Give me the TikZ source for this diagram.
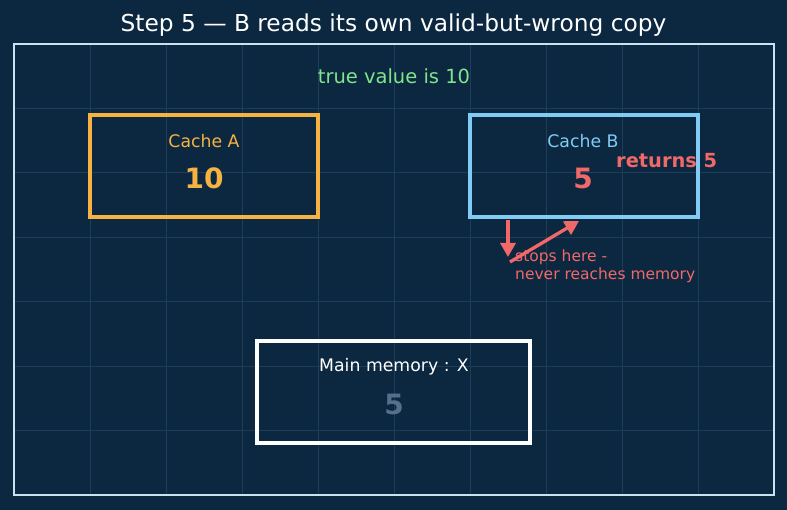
\documentclass[tikz,border=0pt]{standalone}
\usepackage{fontspec}
\setmainfont{DejaVu Sans}
\usetikzlibrary{arrows.meta}
\definecolor{bg}{RGB}{12,40,64}
\definecolor{gridc}{RGB}{30,62,88}
\definecolor{framec}{RGB}{200,226,242}
\definecolor{orangec}{RGB}{246,178,66}
\definecolor{bluec}{RGB}{128,204,244}
\definecolor{redc}{RGB}{240,104,104}
\definecolor{greenc}{RGB}{128,228,140}
\definecolor{grayc}{RGB}{84,112,138}
\tikzset{
  box/.style={draw, line width=3.5pt, minimum width=228pt, minimum height=102pt, inner sep=0pt},
  lbl/.style={font=\fontsize{17.3}{20}\selectfont, inner sep=0pt},
  val/.style={font=\bfseries\fontsize{28}{32}\selectfont, inner sep=0pt},
  redarrow/.style={draw=redc, line width=3.3pt, -{Triangle[length=14pt,width=15pt]}},
}
\begin{document}
\begin{tikzpicture}[x=1pt,y=-1pt]
\fill[bg] (0,0) rectangle (787,510);
\useasboundingbox (0,0) rectangle (787,510);
% grid
\foreach \gx in {90,166,242,318,394,470,546,622,698}
  \draw[gridc, line width=0.8pt] (\gx,45) -- (\gx,494);
\foreach \gy in {108.4,172.9,237.3,301.7,366.1,430.6}
  \draw[gridc, line width=0.8pt] (15,\gy) -- (773,\gy);
% frame
\draw[framec, line width=2pt] (14,44) rectangle (774,495);
% title
\node[font=\fontsize{23.3}{27}\selectfont, text=white, inner sep=0pt] (title) at (393.5,25) {Step 5 — B reads its own valid-but-wrong copy};
\node[font=\fontsize{19.5}{22}\selectfont, text=greenc, inner sep=0pt] (truev) at (394,76) {true value is 10};
% cache A
\node[box, draw=orangec] (cacheA) at (204,166) {};
\node[lbl, text=orangec] (cacheAlbl) at (204,141) {Cache A};
\node[val, text=orangec] (cacheAval) at (204,178) {10};
% cache B
\node[box, draw=bluec] (cacheB) at (584,166) {};
\node[lbl, text=bluec] (cacheBlbl) at (583,141) {Cache B};
\node[val, text=redc] (cacheBval) at (583,178) {5};
\node[font=\bfseries\fontsize{19.4}{22}\selectfont, text=redc, anchor=west, inner sep=0pt] (ret) at (616,161) {returns 5};
% main memory
\node[box, draw=white, minimum width=273pt] (mem) at (393.5,392) {};
\node[lbl, text=white] (memlbl) at (394,367) {Main memory : X};
\node[val, text=grayc] (memval) at (394,404) {5};
% arrows
\coordinate (a1s) at (508,220);
\coordinate (a1e) at (508,257);
\coordinate (a2s) at (510,262);
\coordinate (a2e) at (579,221);
\draw[redarrow] (a1s) -- (a1e);
\draw[redarrow] (a2s) -- (a2e);
\node[font=\fontsize{15.5}{18}\selectfont, text=redc, anchor=north west, align=left, inner sep=0pt] (stops) at (515,250) {stops here -\\never reaches memory};
\end{tikzpicture}
\end{document}
